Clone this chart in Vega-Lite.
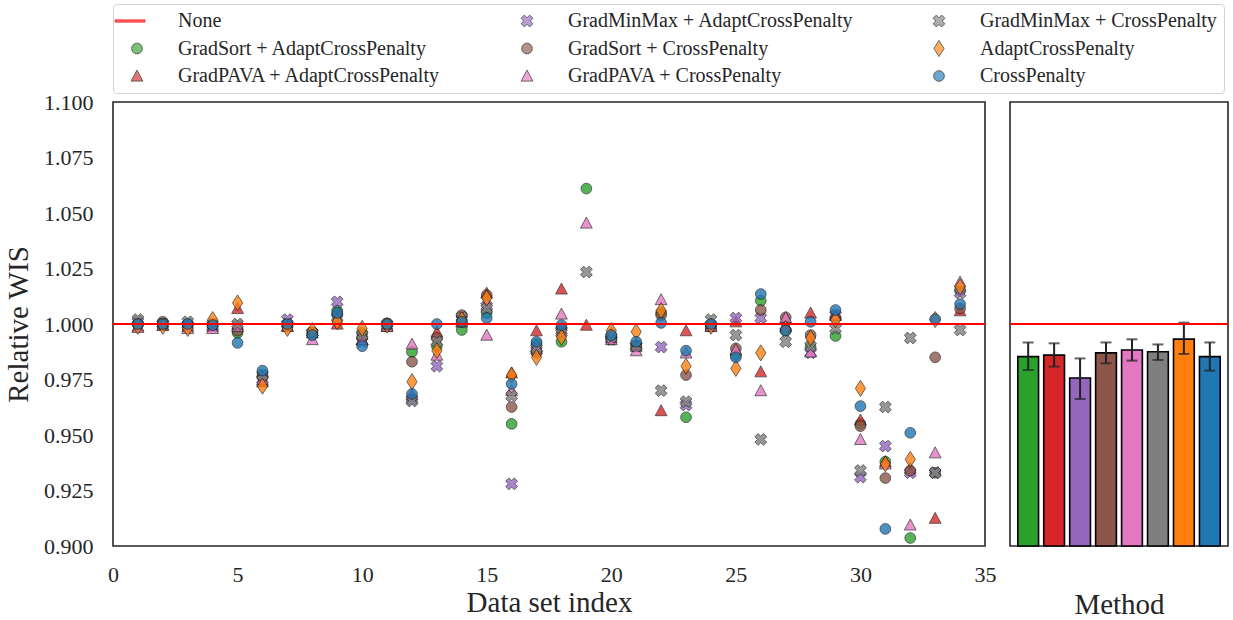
{
  "$schema": "https://vega.github.io/schema/vega-lite/v6.json",
  "padding": {"left": 3, "top": 2, "right": 3, "bottom": 1},
  "spacing": 25,
  "bounds": "flush",
  "resolve": {"scale": {"fill": "independent", "stroke": "independent", "shape": "independent"}},
  "config": {
    "font": "Liberation Serif",
    "view": {"stroke": "#262626", "strokeWidth": 1.6},
    "axis": {"grid": false, "domain": false, "ticks": false, "labelFontSize": 22, "titleFontSize": 29, "titleFontWeight": "normal", "labelColor": "#262626", "titleColor": "#262626", "labelFont": "Liberation Serif", "titleFont": "Liberation Serif"},
    "legend": {
      "orient": "top", "columns": 3, "labelFontSize": 20, "labelFont": "Liberation Serif", "labelColor": "#262626",
      "padding": 7, "rowPadding": 7.5, "columnPadding": 68, "labelOffset": 31, "symbolOffset": 7,
      "strokeColor": "#d0d0d0", "cornerRadius": 4, "offset": 9, "symbolSize": 115, "symbolStrokeWidth": 0.8, "labelLimit": 400
    }
  },
  "datasets": {
    "wis": [
      {"i":1,"GradSort + AdaptCrossPenalty":1.000,"GradPAVA + AdaptCrossPenalty":0.999,"GradMinMax + AdaptCrossPenalty":1.001,"GradSort + CrossPenalty":1.000,"GradPAVA + CrossPenalty":0.9985,"GradMinMax + CrossPenalty":1.002,"AdaptCrossPenalty":0.999,"CrossPenalty":1.000},
      {"i":2,"GradSort + AdaptCrossPenalty":1.000,"GradPAVA + AdaptCrossPenalty":0.9995,"GradMinMax + AdaptCrossPenalty":1.000,"GradSort + CrossPenalty":1.001,"GradPAVA + CrossPenalty":0.9995,"GradMinMax + CrossPenalty":1.000,"AdaptCrossPenalty":0.999,"CrossPenalty":1.000},
      {"i":3,"GradSort + AdaptCrossPenalty":0.9995,"GradPAVA + AdaptCrossPenalty":0.999,"GradMinMax + AdaptCrossPenalty":0.9995,"GradSort + CrossPenalty":1.000,"GradPAVA + CrossPenalty":0.998,"GradMinMax + CrossPenalty":1.001,"AdaptCrossPenalty":0.998,"CrossPenalty":1.000},
      {"i":4,"GradSort + AdaptCrossPenalty":1.000,"GradPAVA + AdaptCrossPenalty":0.999,"GradMinMax + AdaptCrossPenalty":0.999,"GradSort + CrossPenalty":0.9995,"GradPAVA + CrossPenalty":0.998,"GradMinMax + CrossPenalty":1.000,"AdaptCrossPenalty":1.002,"CrossPenalty":0.9995},
      {"i":5,"GradSort + AdaptCrossPenalty":0.996,"GradPAVA + AdaptCrossPenalty":1.007,"GradMinMax + AdaptCrossPenalty":0.999,"GradSort + CrossPenalty":0.997,"GradPAVA + CrossPenalty":0.999,"GradMinMax + CrossPenalty":1.000,"AdaptCrossPenalty":1.0095,"CrossPenalty":0.9915},
      {"i":6,"GradSort + AdaptCrossPenalty":0.977,"GradPAVA + AdaptCrossPenalty":0.974,"GradMinMax + AdaptCrossPenalty":0.975,"GradSort + CrossPenalty":0.976,"GradPAVA + CrossPenalty":0.975,"GradMinMax + CrossPenalty":0.977,"AdaptCrossPenalty":0.972,"CrossPenalty":0.979},
      {"i":7,"GradSort + AdaptCrossPenalty":0.999,"GradPAVA + AdaptCrossPenalty":0.999,"GradMinMax + AdaptCrossPenalty":1.002,"GradSort + CrossPenalty":0.9995,"GradPAVA + CrossPenalty":0.999,"GradMinMax + CrossPenalty":1.000,"AdaptCrossPenalty":0.998,"CrossPenalty":1.000},
      {"i":8,"GradSort + AdaptCrossPenalty":0.996,"GradPAVA + AdaptCrossPenalty":0.996,"GradMinMax + AdaptCrossPenalty":0.996,"GradSort + CrossPenalty":0.996,"GradPAVA + CrossPenalty":0.993,"GradMinMax + CrossPenalty":0.996,"AdaptCrossPenalty":0.997,"CrossPenalty":0.995},
      {"i":9,"GradSort + AdaptCrossPenalty":1.006,"GradPAVA + AdaptCrossPenalty":1.000,"GradMinMax + AdaptCrossPenalty":1.010,"GradSort + CrossPenalty":1.004,"GradPAVA + CrossPenalty":1.002,"GradMinMax + CrossPenalty":1.003,"AdaptCrossPenalty":1.001,"CrossPenalty":1.005},
      {"i":10,"GradSort + AdaptCrossPenalty":0.996,"GradPAVA + AdaptCrossPenalty":0.993,"GradMinMax + AdaptCrossPenalty":0.992,"GradSort + CrossPenalty":0.994,"GradPAVA + CrossPenalty":0.993,"GradMinMax + CrossPenalty":0.995,"AdaptCrossPenalty":0.998,"CrossPenalty":0.990},
      {"i":11,"GradSort + AdaptCrossPenalty":1.000,"GradPAVA + AdaptCrossPenalty":0.999,"GradMinMax + AdaptCrossPenalty":0.999,"GradSort + CrossPenalty":1.000,"GradPAVA + CrossPenalty":0.999,"GradMinMax + CrossPenalty":1.000,"AdaptCrossPenalty":0.9995,"CrossPenalty":1.000},
      {"i":12,"GradSort + AdaptCrossPenalty":0.9874,"GradPAVA + AdaptCrossPenalty":0.968,"GradMinMax + AdaptCrossPenalty":0.966,"GradSort + CrossPenalty":0.983,"GradPAVA + CrossPenalty":0.991,"GradMinMax + CrossPenalty":0.9653,"AdaptCrossPenalty":0.974,"CrossPenalty":0.9685},
      {"i":13,"GradSort + AdaptCrossPenalty":0.990,"GradPAVA + AdaptCrossPenalty":0.9964,"GradMinMax + AdaptCrossPenalty":0.981,"GradSort + CrossPenalty":0.9937,"GradPAVA + CrossPenalty":0.986,"GradMinMax + CrossPenalty":0.992,"AdaptCrossPenalty":0.988,"CrossPenalty":1.000},
      {"i":14,"GradSort + AdaptCrossPenalty":0.9973,"GradPAVA + AdaptCrossPenalty":1.001,"GradMinMax + AdaptCrossPenalty":1.002,"GradSort + CrossPenalty":1.004,"GradPAVA + CrossPenalty":1.001,"GradMinMax + CrossPenalty":1.003,"AdaptCrossPenalty":1.002,"CrossPenalty":1.001},
      {"i":15,"GradSort + AdaptCrossPenalty":1.005,"GradPAVA + AdaptCrossPenalty":1.014,"GradMinMax + AdaptCrossPenalty":1.008,"GradSort + CrossPenalty":1.013,"GradPAVA + CrossPenalty":0.995,"GradMinMax + CrossPenalty":1.007,"AdaptCrossPenalty":1.0117,"CrossPenalty":1.0027},
      {"i":16,"GradSort + AdaptCrossPenalty":0.955,"GradPAVA + AdaptCrossPenalty":0.978,"GradMinMax + AdaptCrossPenalty":0.928,"GradSort + CrossPenalty":0.9626,"GradPAVA + CrossPenalty":0.970,"GradMinMax + CrossPenalty":0.9676,"AdaptCrossPenalty":0.977,"CrossPenalty":0.973},
      {"i":17,"GradSort + AdaptCrossPenalty":0.991,"GradPAVA + AdaptCrossPenalty":0.997,"GradMinMax + AdaptCrossPenalty":0.988,"GradSort + CrossPenalty":0.987,"GradPAVA + CrossPenalty":0.990,"GradMinMax + CrossPenalty":0.989,"AdaptCrossPenalty":0.985,"CrossPenalty":0.992},
      {"i":18,"GradSort + AdaptCrossPenalty":0.992,"GradPAVA + AdaptCrossPenalty":1.0158,"GradMinMax + AdaptCrossPenalty":0.997,"GradSort + CrossPenalty":0.998,"GradPAVA + CrossPenalty":1.0045,"GradMinMax + CrossPenalty":0.996,"AdaptCrossPenalty":0.994,"CrossPenalty":0.9995},
      {"i":19,"GradSort + AdaptCrossPenalty":1.061,"GradPAVA + AdaptCrossPenalty":0.9995,"GradMinMax + AdaptCrossPenalty":null,"GradSort + CrossPenalty":null,"GradPAVA + CrossPenalty":1.0455,"GradMinMax + CrossPenalty":1.0234,"AdaptCrossPenalty":null,"CrossPenalty":null},
      {"i":20,"GradSort + AdaptCrossPenalty":0.994,"GradPAVA + AdaptCrossPenalty":0.996,"GradMinMax + AdaptCrossPenalty":0.993,"GradSort + CrossPenalty":0.993,"GradPAVA + CrossPenalty":0.993,"GradMinMax + CrossPenalty":0.994,"AdaptCrossPenalty":0.997,"CrossPenalty":0.995},
      {"i":21,"GradSort + AdaptCrossPenalty":0.990,"GradPAVA + AdaptCrossPenalty":0.990,"GradMinMax + AdaptCrossPenalty":0.990,"GradSort + CrossPenalty":0.990,"GradPAVA + CrossPenalty":0.988,"GradMinMax + CrossPenalty":0.990,"AdaptCrossPenalty":0.9965,"CrossPenalty":0.992},
      {"i":22,"GradSort + AdaptCrossPenalty":1.005,"GradPAVA + AdaptCrossPenalty":0.961,"GradMinMax + AdaptCrossPenalty":0.9896,"GradSort + CrossPenalty":1.004,"GradPAVA + CrossPenalty":1.011,"GradMinMax + CrossPenalty":0.970,"AdaptCrossPenalty":1.006,"CrossPenalty":1.0005},
      {"i":23,"GradSort + AdaptCrossPenalty":0.958,"GradPAVA + AdaptCrossPenalty":0.997,"GradMinMax + AdaptCrossPenalty":0.9635,"GradSort + CrossPenalty":0.977,"GradPAVA + CrossPenalty":0.987,"GradMinMax + CrossPenalty":0.965,"AdaptCrossPenalty":0.981,"CrossPenalty":0.988},
      {"i":24,"GradSort + AdaptCrossPenalty":0.999,"GradPAVA + AdaptCrossPenalty":0.999,"GradMinMax + AdaptCrossPenalty":0.999,"GradSort + CrossPenalty":0.999,"GradPAVA + CrossPenalty":0.999,"GradMinMax + CrossPenalty":1.002,"AdaptCrossPenalty":0.999,"CrossPenalty":1.000},
      {"i":25,"GradSort + AdaptCrossPenalty":0.986,"GradPAVA + AdaptCrossPenalty":1.001,"GradMinMax + AdaptCrossPenalty":1.0027,"GradSort + CrossPenalty":0.989,"GradPAVA + CrossPenalty":0.9885,"GradMinMax + CrossPenalty":0.995,"AdaptCrossPenalty":0.980,"CrossPenalty":0.985},
      {"i":26,"GradSort + AdaptCrossPenalty":1.0105,"GradPAVA + AdaptCrossPenalty":0.9785,"GradMinMax + AdaptCrossPenalty":1.0027,"GradSort + CrossPenalty":1.0063,"GradPAVA + CrossPenalty":0.970,"GradMinMax + CrossPenalty":0.948,"AdaptCrossPenalty":0.987,"CrossPenalty":1.0135},
      {"i":27,"GradSort + AdaptCrossPenalty":0.997,"GradPAVA + AdaptCrossPenalty":0.999,"GradMinMax + AdaptCrossPenalty":0.999,"GradSort + CrossPenalty":1.003,"GradPAVA + CrossPenalty":1.003,"GradMinMax + CrossPenalty":0.992,"AdaptCrossPenalty":0.998,"CrossPenalty":0.997},
      {"i":28,"GradSort + AdaptCrossPenalty":0.9897,"GradPAVA + AdaptCrossPenalty":1.005,"GradMinMax + AdaptCrossPenalty":0.987,"GradSort + CrossPenalty":0.995,"GradPAVA + CrossPenalty":0.9874,"GradMinMax + CrossPenalty":0.990,"AdaptCrossPenalty":0.9937,"CrossPenalty":1.001},
      {"i":29,"GradSort + AdaptCrossPenalty":0.9946,"GradPAVA + AdaptCrossPenalty":1.004,"GradMinMax + AdaptCrossPenalty":1.004,"GradSort + CrossPenalty":1.003,"GradPAVA + CrossPenalty":1.004,"GradMinMax + CrossPenalty":0.998,"AdaptCrossPenalty":1.0018,"CrossPenalty":1.0063},
      {"i":30,"GradSort + AdaptCrossPenalty":0.955,"GradPAVA + AdaptCrossPenalty":0.9568,"GradMinMax + AdaptCrossPenalty":0.931,"GradSort + CrossPenalty":0.954,"GradPAVA + CrossPenalty":0.948,"GradMinMax + CrossPenalty":0.934,"AdaptCrossPenalty":0.971,"CrossPenalty":0.963},
      {"i":31,"GradSort + AdaptCrossPenalty":0.938,"GradPAVA + AdaptCrossPenalty":0.938,"GradMinMax + AdaptCrossPenalty":0.945,"GradSort + CrossPenalty":0.9306,"GradPAVA + CrossPenalty":0.937,"GradMinMax + CrossPenalty":0.9626,"AdaptCrossPenalty":0.937,"CrossPenalty":0.9077},
      {"i":32,"GradSort + AdaptCrossPenalty":0.9036,"GradPAVA + AdaptCrossPenalty":0.935,"GradMinMax + AdaptCrossPenalty":0.933,"GradSort + CrossPenalty":0.934,"GradPAVA + CrossPenalty":0.9095,"GradMinMax + CrossPenalty":0.9937,"AdaptCrossPenalty":0.939,"CrossPenalty":0.951},
      {"i":33,"GradSort + AdaptCrossPenalty":0.933,"GradPAVA + AdaptCrossPenalty":0.9125,"GradMinMax + AdaptCrossPenalty":0.933,"GradSort + CrossPenalty":0.985,"GradPAVA + CrossPenalty":0.942,"GradMinMax + CrossPenalty":0.933,"AdaptCrossPenalty":1.002,"CrossPenalty":1.0022},
      {"i":34,"GradSort + AdaptCrossPenalty":1.015,"GradPAVA + AdaptCrossPenalty":1.006,"GradMinMax + AdaptCrossPenalty":1.014,"GradSort + CrossPenalty":1.007,"GradPAVA + CrossPenalty":1.019,"GradMinMax + CrossPenalty":0.9973,"AdaptCrossPenalty":1.0167,"CrossPenalty":1.009}
    ],
    "bars": [
      {"method":"GradSort + AdaptCrossPenalty","mean":0.9853,"lo":0.9793,"hi":0.9917},
      {"method":"GradPAVA + AdaptCrossPenalty","mean":0.9860,"lo":0.9808,"hi":0.9913},
      {"method":"GradMinMax + AdaptCrossPenalty","mean":0.9757,"lo":0.9662,"hi":0.9845},
      {"method":"GradSort + CrossPenalty","mean":0.9870,"lo":0.9823,"hi":0.9917},
      {"method":"GradPAVA + CrossPenalty","mean":0.9883,"lo":0.9835,"hi":0.9931},
      {"method":"GradMinMax + CrossPenalty","mean":0.9875,"lo":0.9838,"hi":0.9908},
      {"method":"AdaptCrossPenalty","mean":0.9932,"lo":0.9865,"hi":1.0006},
      {"method":"CrossPenalty","mean":0.9853,"lo":0.9790,"hi":0.9917}
    ],
    "ref": [{"y": 1.0}]
  },
  "hconcat": [
    {
      "width": 872,
      "height": 444,
      "layer": [
        {
          "data": {"name": "wis"},
          "transform": [
            {"fold": ["GradSort + AdaptCrossPenalty","GradPAVA + AdaptCrossPenalty","GradMinMax + AdaptCrossPenalty","GradSort + CrossPenalty","GradPAVA + CrossPenalty","GradMinMax + CrossPenalty","AdaptCrossPenalty","CrossPenalty"], "as": ["method","value"]},
            {"filter": "datum.value != null"}
          ],
          "mark": {"type": "point", "filled": true, "size": 115, "opacity": 0.8, "strokeWidth": 0.8},
          "encoding": {
            "x": {"field": "i", "type": "quantitative", "scale": {"domain": [0, 35], "nice": false, "zero": false}, "axis": {"values": [0,5,10,15,20,25,30,35], "title": "Data set index", "labelPadding": 18, "titlePadding": 3, "labelFlush": false}},
            "y": {"field": "value", "type": "quantitative", "scale": {"domain": [0.9, 1.1], "nice": false, "zero": false}, "axis": {"values": [0.9,0.925,0.95,0.975,1.0,1.025,1.05,1.075,1.1], "format": ".3f", "title": "Relative WIS", "labelPadding": 20, "titlePadding": 10, "labelFlush": false}},
            "fill": {"field": "method", "type": "nominal", "title": null,
              "scale": {"domain": ["None","GradMinMax + AdaptCrossPenalty","GradMinMax + CrossPenalty","GradSort + AdaptCrossPenalty","GradSort + CrossPenalty","AdaptCrossPenalty","GradPAVA + AdaptCrossPenalty","GradPAVA + CrossPenalty","CrossPenalty"],
                        "range": ["#ff0000","#9467bd","#7f7f7f","#2ca02c","#8c564b","#ff7f0e","#d62728","#e377c2","#1f77b4"]}},
            "stroke": {"field": "method", "type": "nominal", "title": null,
              "scale": {"domain": ["None","GradMinMax + AdaptCrossPenalty","GradMinMax + CrossPenalty","GradSort + AdaptCrossPenalty","GradSort + CrossPenalty","AdaptCrossPenalty","GradPAVA + AdaptCrossPenalty","GradPAVA + CrossPenalty","CrossPenalty"],
                        "range": ["#ff0000","#1a1a1a","#1a1a1a","#1a1a1a","#1a1a1a","#1a1a1a","#1a1a1a","#1a1a1a","#1a1a1a"]}},
            "shape": {"field": "method", "type": "nominal", "title": null,
              "scale": {"domain": ["None","GradMinMax + AdaptCrossPenalty","GradMinMax + CrossPenalty","GradSort + AdaptCrossPenalty","GradSort + CrossPenalty","AdaptCrossPenalty","GradPAVA + AdaptCrossPenalty","GradPAVA + CrossPenalty","CrossPenalty"],
                        "range": ["M-4.1,-0.22L1.5,-0.22L1.5,0.22L-4.1,0.22Z",
                                  "M-1.1,-0.5L-0.5,-1.1L0,-0.6L0.5,-1.1L1.1,-0.5L0.6,0L1.1,0.5L0.5,1.1L0,0.6L-0.5,1.1L-1.1,0.5L-0.6,0Z",
                                  "M-1.1,-0.5L-0.5,-1.1L0,-0.6L0.5,-1.1L1.1,-0.5L0.6,0L1.1,0.5L0.5,1.1L0,0.6L-0.5,1.1L-1.1,0.5L-0.6,0Z",
                                  "circle","circle",
                                  "M0,-1.5L0.95,0L0,1.5L-0.95,0Z",
                                  "M0,-1.1L1.1,0.95L-1.1,0.95Z",
                                  "M0,-1.1L1.1,0.95L-1.1,0.95Z",
                                  "circle"]}}
          }
        },
        {
          "data": {"name": "ref"},
          "mark": {"type": "rule", "color": "#ff0000", "strokeWidth": 2.2},
          "encoding": {"y": {"field": "y", "type": "quantitative"}}
        }
      ]
    },
    {
      "width": 218,
      "height": 444,
      "layer": [
        {
          "data": {"name": "bars"},
          "mark": {"type": "bar", "stroke": "#000000", "strokeWidth": 1.6},
          "encoding": {
            "x": {"field": "method", "type": "nominal", "sort": ["GradSort + AdaptCrossPenalty","GradPAVA + AdaptCrossPenalty","GradMinMax + AdaptCrossPenalty","GradSort + CrossPenalty","GradPAVA + CrossPenalty","GradMinMax + CrossPenalty","AdaptCrossPenalty","CrossPenalty"],
                  "scale": {"paddingInner": 0.2, "paddingOuter": 0.3}, "axis": {"labels": false, "title": "Method", "titlePadding": 44}},
            "y": {"field": "mean", "type": "quantitative", "scale": {"domain": [0.9, 1.1], "nice": false, "zero": false}, "axis": null},
            "y2": {"datum": 0.9},
            "fill": {"field": "method", "type": "nominal", "legend": null,
              "scale": {"domain": ["GradSort + AdaptCrossPenalty","GradPAVA + AdaptCrossPenalty","GradMinMax + AdaptCrossPenalty","GradSort + CrossPenalty","GradPAVA + CrossPenalty","GradMinMax + CrossPenalty","AdaptCrossPenalty","CrossPenalty"],
                        "range": ["#2ca02c","#d62728","#9467bd","#8c564b","#e377c2","#7f7f7f","#ff7f0e","#1f77b4"]}}
          }
        },
        {
          "data": {"name": "bars"},
          "mark": {"type": "rule", "color": "#222222", "strokeWidth": 2},
          "encoding": {
            "x": {"field": "method", "type": "nominal", "sort": ["GradSort + AdaptCrossPenalty","GradPAVA + AdaptCrossPenalty","GradMinMax + AdaptCrossPenalty","GradSort + CrossPenalty","GradPAVA + CrossPenalty","GradMinMax + CrossPenalty","AdaptCrossPenalty","CrossPenalty"]},
            "y": {"field": "lo", "type": "quantitative"},
            "y2": {"field": "hi"}
          }
        },
        {
          "data": {"name": "bars"},
          "mark": {"type": "tick", "color": "#222222", "thickness": 2, "size": 11, "orient": "horizontal"},
          "encoding": {
            "x": {"field": "method", "type": "nominal", "sort": ["GradSort + AdaptCrossPenalty","GradPAVA + AdaptCrossPenalty","GradMinMax + AdaptCrossPenalty","GradSort + CrossPenalty","GradPAVA + CrossPenalty","GradMinMax + CrossPenalty","AdaptCrossPenalty","CrossPenalty"]},
            "y": {"field": "lo", "type": "quantitative"}
          }
        },
        {
          "data": {"name": "bars"},
          "mark": {"type": "tick", "color": "#222222", "thickness": 2, "size": 11, "orient": "horizontal"},
          "encoding": {
            "x": {"field": "method", "type": "nominal", "sort": ["GradSort + AdaptCrossPenalty","GradPAVA + AdaptCrossPenalty","GradMinMax + AdaptCrossPenalty","GradSort + CrossPenalty","GradPAVA + CrossPenalty","GradMinMax + CrossPenalty","AdaptCrossPenalty","CrossPenalty"]},
            "y": {"field": "hi", "type": "quantitative"}
          }
        },
        {
          "data": {"name": "ref"},
          "mark": {"type": "rule", "color": "#ff0000", "strokeWidth": 2.2},
          "encoding": {"y": {"field": "y", "type": "quantitative"}}
        }
      ]
    }
  ]
}
